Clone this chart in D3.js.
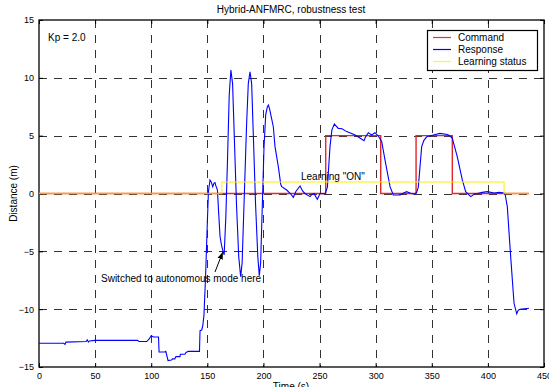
<!DOCTYPE html>
<html>
<head>
<meta charset="utf-8">
<script src="https://cdn.jsdelivr.net/npm/d3@7"></script>
<style>
  body { margin: 0; background: #fff; }
  svg { display: block; font-family: "Liberation Sans", Arial, sans-serif; }
</style>
</head>
<body>
<svg width="549" height="387"></svg>
<script>
// command (step after)
const cmdTime = [0, 255.5, 304.5, 336, 368.3, 436.6];
const cmdValue = [0, 5, 0, 5, 0, 0];

// learning status (step after)
const learnTime = [0, 162.8, 414.4, 436.6];
const learnValue = [0, 1, 0, 0];

// response
const respTime = [0, 22, 23.2, 24, 42, 43, 44, 45, 50, 88, 89, 90, 96, 98, 100, 102, 106.5, 107, 112, 113, 115, 118, 119, 121, 122, 125.6, 126, 130, 131, 133, 143, 143.5, 145, 146, 147, 148.5, 150, 151, 152.4, 153.5, 154.8, 156, 156.8, 157.5, 159, 160, 161.3, 162.5, 163.7, 165, 166.5, 168, 169.5, 171, 172.5, 174, 176, 178, 179.7, 181, 183, 185, 186.5, 188, 189.5, 191, 193, 195, 196.3, 197.5, 199, 200.5, 202, 203.5, 204.4, 205.5, 207, 208.8, 210.3, 213.3, 215.4, 216.3, 220.7, 224, 226.6, 229, 232.6, 235, 237, 241.5, 243, 245, 248, 250.4, 254.9, 257, 259.3, 261, 263.2, 266.7, 270, 274.2, 278, 281.6, 286, 289.6, 291, 293.5, 296.4, 299.4, 302.4, 305.4, 308.3, 312.8, 315.7, 321.7, 324, 327.6, 331.6, 334.6, 336.5, 338, 341, 343, 345.5, 351.4, 357.3, 363.9, 366, 368.3, 372.7, 377.2, 380.2, 384.7, 388, 390.6, 395, 399.5, 405.5, 410, 414.4, 415.5, 417.3, 420.3, 423.3, 425.7, 427, 428.6, 436.6];
const respValue = [-12.95, -12.95, -13.05, -12.85, -12.8, -12.65, -12.85, -12.75, -12.7, -12.7, -12.8, -12.8, -12.8, -12.6, -12.3, -12.4, -12.4, -13.7, -13.7, -13.65, -14.45, -14.4, -14.3, -14.3, -14.1, -14.1, -13.9, -13.9, -13.75, -13.65, -13.65, -11.86, -11.8, -11.4, -10.5, -7, -2.5, 0.2, 1.17, 1.0, 0.59, 0.9, 0.94, 0.7, 0.3, -1.5, -3.7, -4.4, -4.9, -5.3, -2, 3, 8.5, 10.67, 9.5, 5, -1, -5.5, -7.2, -6, 0, 6, 9.5, 10.53, 9.5, 5, -1, -5.5, -7.1, -6, -1, 4, 6.8, 7.5, 7.65, 7.3, 6.6, 5.77, 4.05, 2.3, 0.8, 0.59, 0.3, 0.0, -0.33, 0.2, 0.65, 0.2, 0, -0.27, -0.1, 0, -0.5, 0, -0.04, 0.55, 4.05, 5.5, 6.0, 5.63, 5.6, 5.35, 5.2, 5.06, 4.8, 4.57, 4.9, 5.26, 5.06, 5.26, 4.97, 4.48, 2.9, 0.59, -0.13, -0.13, 0, 0.16, 0, -0.05, 0.1, 0.55, 4.05, 4.6, 4.9, 5.06, 5.2, 5.1, 5.0, 4.77, 3.18, 1.17, 0.16, -0.27, -0.05, 0, 0.1, 0.16, 0.05, 0.1, 0.05, -0.13, -1.14, -5.46, -9.49, -10.4, -10.1, -10.0, -9.92];

const xTicks = [0, 50, 100, 150, 200, 250, 300, 350, 400, 450];
const yTicks = [-15, -10, -5, 0, 5, 10, 15];

const svg = d3.select("svg");
const margin = {left: 39, right: 5, top: 20, bottom: 20};
const width = +svg.attr("width");
const height = +svg.attr("height");

const x = d3.scaleLinear().domain([0, 450]).range([margin.left, width - margin.right]);
const y = d3.scaleLinear().domain([-15, 15]).range([height - margin.bottom, margin.top]);

// grid
const grid = svg.append("g").attr("stroke", "#333").attr("stroke-dasharray", "8,7").attr("stroke-width", 1);
grid.selectAll(".gx").data(xTicks.slice(1, -1)).enter().append("line")
    .attr("x1", d => Math.round(x(d)) + 0.5).attr("x2", d => Math.round(x(d)) + 0.5)
    .attr("y1", y(15)).attr("y2", y(-15));
grid.selectAll(".gy").data(yTicks.slice(1, -1)).enter().append("line")
    .attr("y1", d => Math.round(y(d)) + 0.5).attr("y2", d => Math.round(y(d)) + 0.5)
    .attr("x1", x(0)).attr("x2", x(450));

// axes
svg.append("g")
    .attr("transform", `translate(0,${y(-15)})`)
    .call(d3.axisBottom(x).tickValues(xTicks).tickSize(-4).tickPadding(6))
    .call(g => g.select(".domain").remove())
    .call(g => g.selectAll("text").attr("font-size", 9).attr("fill", "#000"));
svg.append("g")
    .attr("transform", `translate(0,${y(15)})`)
    .call(d3.axisTop(x).tickValues(xTicks).tickSize(-4).tickFormat(""))
    .call(g => g.select(".domain").remove());
svg.append("g")
    .attr("transform", `translate(${x(0)},0)`)
    .call(d3.axisLeft(y).tickValues(yTicks).tickSize(-4).tickPadding(5))
    .call(g => g.select(".domain").remove())
    .call(g => g.selectAll("text").attr("font-size", 9).attr("fill", "#000"));
svg.append("g")
    .attr("transform", `translate(${x(450)},0)`)
    .call(d3.axisRight(y).tickValues(yTicks).tickSize(-4).tickFormat(""))
    .call(g => g.select(".domain").remove());

svg.append("rect")
    .attr("x", x(0)).attr("y", y(15))
    .attr("width", x(450) - x(0)).attr("height", y(-15) - y(15))
    .attr("fill", "none").attr("stroke", "#000").attr("stroke-width", 1.3);

// lines
const stepLine = d3.line().x(d => x(d[0])).y(d => y(d[1])).curve(d3.curveStepAfter);
const plainLine = d3.line().x(d => x(d[0])).y(d => y(d[1]));

svg.append("path")
    .datum(cmdTime.map((t, i) => [t, cmdValue[i]]))
    .attr("d", stepLine).attr("fill", "none").attr("stroke", "#e02828").attr("stroke-width", 1.4);

svg.append("path")
    .datum(respTime.map((t, i) => [t, respValue[i]]))
    .attr("d", plainLine).attr("fill", "none").attr("stroke", "#0000ff").attr("stroke-width", 1.1);

svg.append("path")
    .datum(learnTime.map((t, i) => [t, learnValue[i]]))
    .attr("d", stepLine).attr("fill", "none").attr("stroke", "#ffee00")
    .attr("stroke-opacity", 0.65).attr("stroke-width", 1.6);

// title and labels
svg.append("text").attr("x", 291).attr("y", 13).attr("text-anchor", "middle")
    .attr("font-size", 10).text("Hybrid-ANFMRC, robustness test");
svg.append("text").attr("x", 291).attr("y", 390).attr("text-anchor", "middle")
    .attr("font-size", 10).text("Time (s)");
svg.append("text").attr("transform", `translate(17,${y(0)}) rotate(-90)`)
    .attr("text-anchor", "middle").attr("font-size", 10).text("Distance (m)");

svg.append("text").attr("x", 48).attr("y", 41).attr("font-size", 10).text("Kp = 2.0");
svg.append("text").attr("x", 301).attr("y", 180).attr("font-size", 10).text("Learning \"ON\"");
svg.append("text").attr("x", 101).attr("y", 282).attr("font-size", 10).text("Switched to autonomous mode here");

// arrow
svg.append("defs").append("marker")
    .attr("id", "arr").attr("viewBox", "0 0 10 10").attr("refX", 10).attr("refY", 5)
    .attr("markerWidth", 7).attr("markerHeight", 7).attr("orient", "auto")
    .append("path").attr("d", "M0,1 L10,5 L0,9 Z").attr("fill", "#000");
svg.append("line")
    .attr("x1", 215).attr("y1", 272).attr("x2", x(163.7)).attr("y2", y(-4.9) + 2)
    .attr("stroke", "#000").attr("stroke-width", 1).attr("marker-end", "url(#arr)");

// legend
const legend = svg.append("g");
legend.append("rect").attr("x", 427.5).attr("y", 30.5).attr("width", 110).attr("height", 40)
    .attr("fill", "#fff").attr("stroke", "#000").attr("stroke-width", 1.2);
const legendItems = [["Command", "#f03030"], ["Response", "#0000ff"], ["Learning status", "#ffff00"]];
legendItems.forEach(([label, color], i) => {
    const ly = 37.5 + i * 12;
    legend.append("line").attr("x1", 433).attr("x2", 451).attr("y1", ly).attr("y2", ly)
        .attr("stroke", color).attr("stroke-width", 1.2);
    legend.append("text").attr("x", 458).attr("y", ly + 3.5).attr("font-size", 10).text(label);
});
</script>
</body>
</html>
